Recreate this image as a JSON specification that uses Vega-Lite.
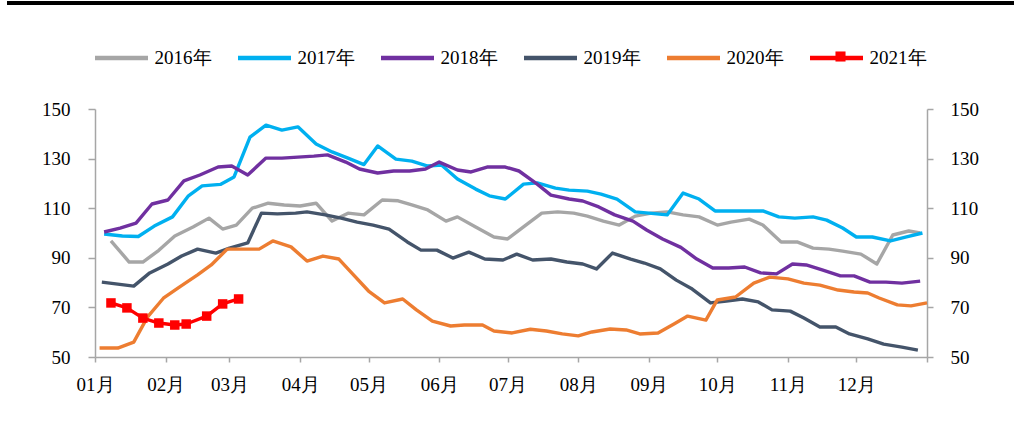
{
  "$schema": "https://vega.github.io/schema/vega-lite/v6.json",
  "autosize": "none",
  "width": 832,
  "height": 248,
  "padding": {"left": 95, "top": 109, "right": 87, "bottom": 79},
  "background": "white",
  "config": {
    "view": {"stroke": null},
    "font": "'Liberation Serif', 'Times New Roman', serif",
    "axis": {
      "grid": false,
      "domainColor": "#A6A6A6",
      "domainWidth": 1.5,
      "tickColor": "#A6A6A6",
      "tickWidth": 1.5,
      "labelColor": "#000000",
      "labelFont": "'Liberation Serif', 'Times New Roman', serif",
      "labelFontSize": 19,
      "title": null
    },
    "legend": {
      "labelFont": "'Liberation Serif', 'Times New Roman', serif",
      "labelFontSize": 19,
      "labelColor": "#000000"
    }
  },
  "data": {"values": [
    {"series":"2016年","day":7,"value":96.8},{"series":"2016年","day":15,"value":88.3},{"series":"2016年","day":21,"value":88.3},{"series":"2016年","day":28,"value":93},{"series":"2016年","day":35,"value":98.8},{"series":"2016年","day":43,"value":102.4},{"series":"2016年","day":50,"value":106},{"series":"2016年","day":56,"value":101.6},{"series":"2016年","day":62,"value":103.2},{"series":"2016年","day":69,"value":110},{"series":"2016年","day":76,"value":112},{"series":"2016年","day":83,"value":111.3},{"series":"2016年","day":90,"value":110.9},{"series":"2016年","day":97,"value":112},{"series":"2016年","day":104,"value":104.8},{"series":"2016年","day":111,"value":108},{"series":"2016年","day":118,"value":107.3},{"series":"2016年","day":126,"value":113.3},{"series":"2016年","day":133,"value":113},{"series":"2016年","day":139,"value":111.3},{"series":"2016年","day":146,"value":109.3},{"series":"2016年","day":154,"value":104.8},{"series":"2016年","day":159,"value":106.5},{"series":"2016年","day":167,"value":102.4},{"series":"2016年","day":175,"value":98.4},{"series":"2016年","day":181,"value":97.6},{"series":"2016年","day":189,"value":103.2},{"series":"2016年","day":196,"value":108},{"series":"2016年","day":203,"value":108.5},{"series":"2016年","day":210,"value":108},{"series":"2016年","day":216,"value":106.8},{"series":"2016年","day":223,"value":104.8},{"series":"2016年","day":230,"value":103.2},{"series":"2016年","day":237,"value":106.8},{"series":"2016年","day":244,"value":108},{"series":"2016年","day":251,"value":108.5},{"series":"2016年","day":258,"value":107.3},{"series":"2016年","day":265,"value":106.5},{"series":"2016年","day":273,"value":103.2},{"series":"2016年","day":279,"value":104.4},{"series":"2016年","day":287,"value":105.6},{"series":"2016年","day":293,"value":103.2},{"series":"2016年","day":301,"value":96.4},{"series":"2016年","day":308,"value":96.4},{"series":"2016年","day":315,"value":93.9},{"series":"2016年","day":322,"value":93.5},{"series":"2016年","day":328,"value":92.7},{"series":"2016年","day":336,"value":91.5},{"series":"2016年","day":343,"value":87.5},{"series":"2016年","day":350,"value":99.2},{"series":"2016年","day":357,"value":100.8},{"series":"2016年","day":362,"value":100},
    {"series":"2017年","day":4,"value":99.6},{"series":"2017年","day":12,"value":98.8},{"series":"2017年","day":19,"value":98.6},{"series":"2017年","day":26,"value":102.8},{"series":"2017年","day":34,"value":106.5},{"series":"2017年","day":41,"value":115},{"series":"2017年","day":47,"value":119},{"series":"2017年","day":55,"value":119.6},{"series":"2017年","day":61,"value":122.6},{"series":"2017年","day":68,"value":138.7},{"series":"2017年","day":75,"value":143.5},{"series":"2017年","day":82,"value":141.5},{"series":"2017年","day":89,"value":142.8},{"series":"2017年","day":97,"value":135.9},{"series":"2017年","day":104,"value":132.7},{"series":"2017年","day":111,"value":130.2},{"series":"2017年","day":118,"value":127.6},{"series":"2017年","day":124,"value":135.1},{"series":"2017年","day":132,"value":129.8},{"series":"2017年","day":139,"value":129},{"series":"2017年","day":146,"value":127},{"series":"2017年","day":152,"value":127.4},{"series":"2017年","day":159,"value":121.8},{"series":"2017年","day":167,"value":117.7},{"series":"2017年","day":173,"value":115},{"series":"2017年","day":180,"value":113.7},{"series":"2017年","day":188,"value":119.7},{"series":"2017年","day":194,"value":120.2},{"series":"2017年","day":202,"value":118.1},{"series":"2017年","day":208,"value":117.3},{"series":"2017年","day":216,"value":116.9},{"series":"2017年","day":222,"value":115.7},{"series":"2017年","day":229,"value":113.7},{"series":"2017年","day":237,"value":108.5},{"series":"2017年","day":243,"value":108},{"series":"2017年","day":251,"value":107.3},{"series":"2017年","day":258,"value":116.1},{"series":"2017年","day":265,"value":113.7},{"series":"2017年","day":272,"value":108.9},{"series":"2017年","day":279,"value":108.9},{"series":"2017年","day":286,"value":108.9},{"series":"2017年","day":293,"value":108.9},{"series":"2017年","day":300,"value":106.5},{"series":"2017年","day":307,"value":106},{"series":"2017年","day":315,"value":106.5},{"series":"2017年","day":321,"value":105.2},{"series":"2017年","day":328,"value":102},{"series":"2017年","day":334,"value":98.4},{"series":"2017年","day":341,"value":98.4},{"series":"2017年","day":349,"value":96.8},{"series":"2017年","day":356,"value":98.4},{"series":"2017年","day":363,"value":100},
    {"series":"2018年","day":4,"value":100.4},{"series":"2018年","day":11,"value":102},{"series":"2018年","day":18,"value":104},{"series":"2018年","day":25,"value":111.7},{"series":"2018年","day":32,"value":113.3},{"series":"2018年","day":39,"value":121},{"series":"2018年","day":46,"value":123.4},{"series":"2018年","day":54,"value":126.6},{"series":"2018年","day":60,"value":127},{"series":"2018年","day":67,"value":123.4},{"series":"2018年","day":75,"value":130.2},{"series":"2018年","day":82,"value":130.2},{"series":"2018年","day":89,"value":130.6},{"series":"2018年","day":96,"value":131},{"series":"2018年","day":102,"value":131.5},{"series":"2018年","day":110,"value":128.6},{"series":"2018年","day":116,"value":125.8},{"series":"2018年","day":124,"value":124.2},{"series":"2018年","day":131,"value":125},{"series":"2018年","day":138,"value":125},{"series":"2018年","day":145,"value":125.8},{"series":"2018年","day":151,"value":128.6},{"series":"2018年","day":159,"value":125.4},{"series":"2018年","day":165,"value":124.6},{"series":"2018年","day":172,"value":126.6},{"series":"2018年","day":180,"value":126.6},{"series":"2018年","day":186,"value":125},{"series":"2018年","day":194,"value":119.7},{"series":"2018年","day":200,"value":115.3},{"series":"2018年","day":208,"value":113.7},{"series":"2018年","day":214,"value":112.9},{"series":"2018年","day":221,"value":110.5},{"series":"2018年","day":228,"value":107.3},{"series":"2018年","day":236,"value":104.8},{"series":"2018年","day":242,"value":101.2},{"series":"2018年","day":249,"value":97.6},{"series":"2018年","day":257,"value":94.2},{"series":"2018年","day":264,"value":89.5},{"series":"2018年","day":271,"value":85.9},{"series":"2018年","day":278,"value":85.9},{"series":"2018年","day":285,"value":86.3},{"series":"2018年","day":292,"value":83.9},{"series":"2018年","day":299,"value":83.5},{"series":"2018年","day":306,"value":87.5},{"series":"2018年","day":312,"value":87.1},{"series":"2018年","day":319,"value":85.1},{"series":"2018年","day":327,"value":82.7},{"series":"2018年","day":333,"value":82.7},{"series":"2018年","day":340,"value":80.2},{"series":"2018年","day":347,"value":80.2},{"series":"2018年","day":354,"value":79.8},{"series":"2018年","day":362,"value":80.6},
    {"series":"2019年","day":3,"value":80.2},{"series":"2019年","day":10,"value":79.4},{"series":"2019年","day":17,"value":78.6},{"series":"2019年","day":24,"value":83.9},{"series":"2019年","day":32,"value":87.5},{"series":"2019年","day":38,"value":90.7},{"series":"2019年","day":45,"value":93.5},{"series":"2019年","day":53,"value":91.9},{"series":"2019年","day":59,"value":93.9},{"series":"2019年","day":67,"value":96},{"series":"2019年","day":73,"value":108},{"series":"2019年","day":80,"value":107.7},{"series":"2019年","day":88,"value":108},{"series":"2019年","day":93,"value":108.5},{"series":"2019年","day":101,"value":107.3},{"series":"2019年","day":108,"value":106},{"series":"2019年","day":115,"value":104.4},{"series":"2019年","day":122,"value":103.2},{"series":"2019年","day":129,"value":101.6},{"series":"2019年","day":137,"value":96.4},{"series":"2019年","day":143,"value":93.1},{"series":"2019年","day":150,"value":93.1},{"series":"2019年","day":157,"value":89.9},{"series":"2019年","day":164,"value":92.3},{"series":"2019年","day":171,"value":89.5},{"series":"2019年","day":179,"value":89.1},{"series":"2019年","day":185,"value":91.5},{"series":"2019年","day":192,"value":89.1},{"series":"2019年","day":200,"value":89.5},{"series":"2019年","day":207,"value":88.3},{"series":"2019年","day":214,"value":87.5},{"series":"2019年","day":220,"value":85.5},{"series":"2019年","day":227,"value":91.9},{"series":"2019年","day":235,"value":89.5},{"series":"2019年","day":241,"value":87.9},{"series":"2019年","day":248,"value":85.5},{"series":"2019年","day":255,"value":81},{"series":"2019年","day":262,"value":77.4},{"series":"2019年","day":270,"value":71.8},{"series":"2019年","day":277,"value":72.6},{"series":"2019年","day":284,"value":73.4},{"series":"2019年","day":291,"value":72.2},{"series":"2019年","day":297,"value":69},{"series":"2019年","day":305,"value":68.5},{"series":"2019年","day":311,"value":65.7},{"series":"2019年","day":318,"value":62.1},{"series":"2019年","day":325,"value":62.1},{"series":"2019年","day":331,"value":59.3},{"series":"2019年","day":339,"value":57.3},{"series":"2019年","day":346,"value":55.2},{"series":"2019年","day":354,"value":54},{"series":"2019年","day":361,"value":52.8},
    {"series":"2020年","day":2,"value":53.6},{"series":"2020年","day":10,"value":53.6},{"series":"2020年","day":17,"value":56},{"series":"2020年","day":23,"value":66.1},{"series":"2020年","day":30,"value":73.7},{"series":"2020年","day":37,"value":78.2},{"series":"2020年","day":45,"value":83.1},{"series":"2020年","day":51,"value":87.1},{"series":"2020年","day":58,"value":93.5},{"series":"2020年","day":65,"value":93.5},{"series":"2020年","day":72,"value":93.5},{"series":"2020年","day":78,"value":96.8},{"series":"2020年","day":86,"value":94.4},{"series":"2020年","day":93,"value":88.7},{"series":"2020年","day":100,"value":90.7},{"series":"2020年","day":107,"value":89.5},{"series":"2020年","day":113,"value":83.5},{"series":"2020年","day":120,"value":76.6},{"series":"2020年","day":127,"value":71.8},{"series":"2020年","day":135,"value":73.4},{"series":"2020年","day":141,"value":69},{"series":"2020年","day":148,"value":64.5},{"series":"2020年","day":156,"value":62.5},{"series":"2020年","day":162,"value":62.9},{"series":"2020年","day":170,"value":62.9},{"series":"2020年","day":175,"value":60.5},{"series":"2020年","day":183,"value":59.7},{"series":"2020年","day":191,"value":61.2},{"series":"2020年","day":198,"value":60.5},{"series":"2020年","day":205,"value":59.3},{"series":"2020年","day":212,"value":58.5},{"series":"2020年","day":218,"value":60.1},{"series":"2020年","day":226,"value":61.3},{"series":"2020年","day":233,"value":60.9},{"series":"2020年","day":239,"value":59.3},{"series":"2020年","day":247,"value":59.7},{"series":"2020年","day":254,"value":63.3},{"series":"2020年","day":260,"value":66.5},{"series":"2020年","day":268,"value":64.9},{"series":"2020年","day":273,"value":73},{"series":"2020年","day":281,"value":74.2},{"series":"2020年","day":289,"value":79.8},{"series":"2020年","day":296,"value":82.2},{"series":"2020年","day":304,"value":81.5},{"series":"2020年","day":311,"value":79.8},{"series":"2020年","day":318,"value":79},{"series":"2020年","day":326,"value":77},{"series":"2020年","day":333,"value":76.2},{"series":"2020年","day":339,"value":75.8},{"series":"2020年","day":344,"value":73.8},{"series":"2020年","day":352,"value":71},{"series":"2020年","day":358,"value":70.6},{"series":"2020年","day":365,"value":71.8},
    {"series":"2021年","day":7,"value":71.8},{"series":"2021年","day":14,"value":69.8},{"series":"2021年","day":21,"value":65.7},{"series":"2021年","day":28,"value":63.7},{"series":"2021年","day":35,"value":62.9},{"series":"2021年","day":40,"value":63.3},{"series":"2021年","day":49,"value":66.5},{"series":"2021年","day":56,"value":71.4},{"series":"2021年","day":63,"value":73.4}
  ]},
  "layer": [
    {
      "mark": {"type": "rule", "color": "#000000", "strokeWidth": 3.5, "clip": false},
      "encoding": {
        "x": {"datum": -38.2, "type": "quantitative"},
        "x2": {"datum": 403.2},
        "y": {"datum": 192.7, "type": "quantitative", "axis": null}
      }
    },
    {
      "mark": {"type": "line", "strokeWidth": 3.4, "strokeJoin": "round"},
      "encoding": {
        "x": {
          "field": "day", "type": "quantitative",
          "scale": {"domain": [0, 365], "nice": false, "zero": false},
          "axis": {
            "values": [0, 31, 59, 90, 120, 151, 181, 212, 243, 273, 304, 334, 365],
            "labelExpr": "['01月','02月','03月','04月','05月','06月','07月','08月','09月','10月','11月','12月',''][indexof([0,31,59,90,120,151,181,212,243,273,304,334,365], datum.value)]",
            "labelFlush": false,
            "labelOverlap": false,
            "tickSize": 5,
            "labelPadding": 13
          }
        },
        "y": {
          "field": "value", "type": "quantitative",
          "scale": {"domain": [50, 150], "nice": false, "zero": false},
          "axis": {"orient": "left", "values": [50, 70, 90, 110, 130, 150], "tickSize": 7, "labelPadding": 18}
        },
        "color": {
          "field": "series", "type": "nominal",
          "scale": {
            "domain": ["2016年", "2017年", "2018年", "2019年", "2020年", "2021年"],
            "range": ["#A6A6A6", "#00B0F0", "#7030A0", "#44546A", "#ED7D31", "#FF0000"]
          },
          "legend": {
            "orient": "none",
            "legendX": -2.5,
            "legendY": -80,
            "direction": "horizontal",
            "title": null,
            "padding": 0,
            "symbolType": "stroke",
            "symbolSize": 2809,
            "symbolStrokeWidth": 4.5,
            "labelOffset": 4,
            "columnPadding": 17
          }
        }
      }
    },
    {
      "transform": [{"filter": "datum.series === '2021年'"}],
      "mark": {"type": "point", "shape": "square", "filled": true, "size": 90, "opacity": 1, "color": "#FF0000"},
      "encoding": {
        "x": {"field": "day", "type": "quantitative"},
        "y": {
          "field": "value", "type": "quantitative",
          "axis": {"orient": "right", "values": [50, 70, 90, 110, 130, 150], "tickSize": 6, "labelPadding": 17}
        }
      }
    },
    {
      "transform": [{"filter": "datum.series === '2021年'"}],
      "mark": {"type": "point", "opacity": 0, "filled": true, "color": "#FF0000"},
      "encoding": {
        "x": {"field": "day", "type": "quantitative"},
        "y": {"field": "value", "type": "quantitative", "axis": null},
        "shape": {
          "field": "series", "type": "nominal",
          "scale": {"domain": ["2021年"], "range": ["M-0.19,-0.19H0.19V0.19H-0.19Z"]},
          "legend": {
            "orient": "none",
            "legendX": 718,
            "legendY": -80,
            "direction": "horizontal",
            "title": null,
            "padding": 0,
            "symbolSize": 2809,
            "symbolOpacity": 1,
            "symbolFillColor": "#FF0000",
            "labelExpr": "''",
            "labelOffset": 4
          }
        }
      }
    }
  ],
  "resolve": {"axis": {"y": "independent"}}
}
